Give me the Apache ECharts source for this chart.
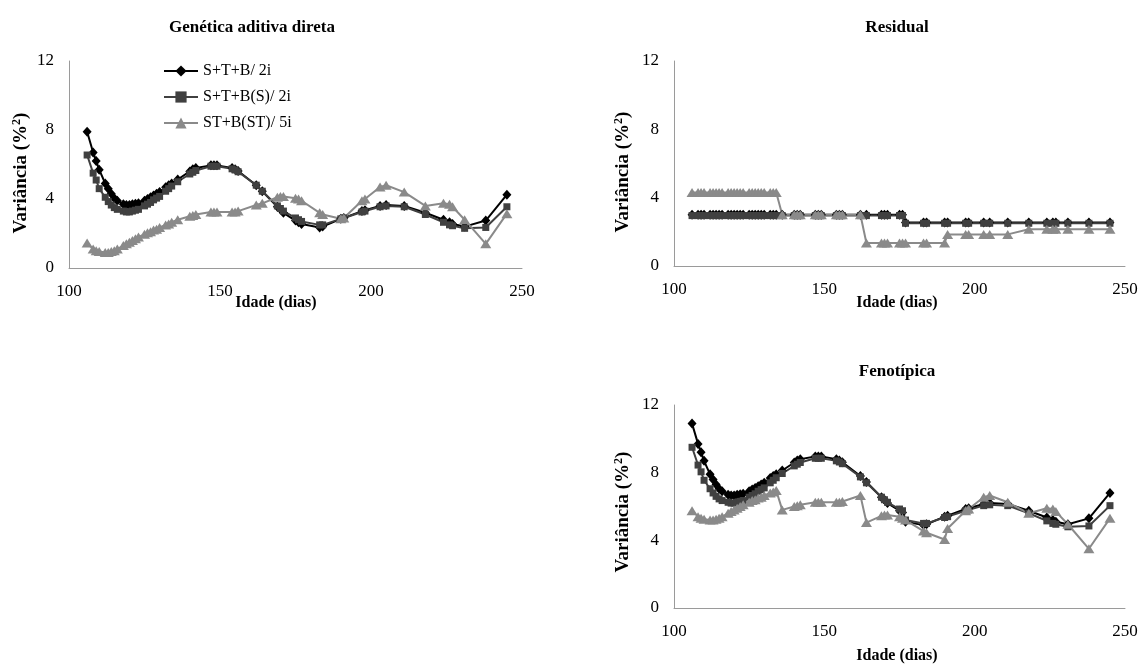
<!DOCTYPE html>
<html>
<head>
<meta charset="utf-8">
<script src="https://cdn.jsdelivr.net/npm/echarts@6/dist/echarts.min.js"></script>
<style>
  html, body { margin: 0; padding: 0; background: #ffffff; }
  #chart { width: 1142px; height: 666px; }
</style>
</head>
<body>
<div id="chart"></div>
<script>
// Ages (days) at which the variance components were estimated
const ages = [106, 108, 109, 110, 112, 113, 114, 115, 116, 118,
              119, 120, 121, 122, 123, 125, 126, 127, 128, 129,
              130, 132, 133, 134, 136, 140, 141, 142, 147, 148,
              149, 154, 155, 156, 162, 164, 169, 170, 171, 175,
              176, 177, 183, 184, 190, 191, 197, 198, 203, 205,
              211, 218, 224, 226, 227, 231, 238, 245];

const seriesNames = ['S+T+B/ 2i', 'S+T+B(S)/ 2i', 'ST+B(ST)/ 5i'];
const panelTitles = ['Genética aditiva direta', 'Residual', 'Fenotípica'];
const xTicks = [100, 150, 200, 250];
const yTicks = [0, 4, 8, 12];

// Direct additive genetic variance
const genSTB = [7.9, 6.7, 6.2, 5.7, 4.9, 4.6, 4.3, 4.05, 3.9, 3.7,
                3.65, 3.65, 3.7, 3.72, 3.75, 3.9, 4.0, 4.1, 4.2, 4.3,
                4.4, 4.68, 4.8, 4.9, 5.13, 5.6, 5.72, 5.8, 5.95, 5.95,
                5.95, 5.8, 5.72, 5.62, 4.8, 4.45, 3.55, 3.4, 3.2, 2.75,
                2.65, 2.55, 2.35, 2.4, 2.85, 2.9, 3.3, 3.35, 3.6, 3.65,
                3.6, 3.2, 2.8, 2.65, 2.55, 2.4, 2.75, 4.25];
const genSTBS = [6.55, 5.5, 5.1, 4.6, 4.1, 3.85, 3.65, 3.5, 3.4, 3.3,
                 3.25, 3.25, 3.3, 3.35, 3.4, 3.6, 3.7, 3.8, 3.95, 4.05,
                 4.15, 4.45, 4.6, 4.75, 5.0, 5.45, 5.55, 5.65, 5.9, 5.9,
                 5.9, 5.75, 5.68, 5.58, 4.8, 4.45, 3.6, 3.45, 3.3, 2.9,
                 2.8, 2.7, 2.5, 2.5, 2.85, 2.9, 3.25, 3.3, 3.55, 3.6,
                 3.55, 3.1, 2.65, 2.5, 2.45, 2.3, 2.35, 3.55];
const genSTBST = [1.45, 1.1, 1.0, 0.95, 0.9, 0.9, 0.95, 1.0, 1.1, 1.3,
                  1.4, 1.5, 1.6, 1.7, 1.8, 1.95, 2.05, 2.1, 2.2, 2.25,
                  2.35, 2.5, 2.55, 2.65, 2.8, 3.0, 3.05, 3.1, 3.25, 3.25,
                  3.25, 3.25, 3.25, 3.3, 3.65, 3.75, 4.1, 4.15, 4.15, 4.05,
                  4.0, 3.9, 3.2, 3.1, 2.85, 2.9, 3.9, 4.0, 4.7, 4.8,
                  4.4, 3.6, 3.75, 3.7, 3.55, 2.8, 1.4, 3.15];

// Residual variance (piecewise constant by age class)
const resSTB = [3.0, 3.0, 3.0, 3.0, 3.0, 3.0, 3.0, 3.0, 3.0, 3.0,
                3.0, 3.0, 3.0, 3.0, 3.0, 3.0, 3.0, 3.0, 3.0, 3.0,
                3.0, 3.0, 3.0, 3.0, 3.0, 3.0, 3.0, 3.0, 3.0, 3.0,
                3.0, 3.0, 3.0, 3.0, 3.0, 3.0, 3.0, 3.0, 3.0, 3.0,
                3.0, 2.55, 2.55, 2.55, 2.55, 2.55, 2.55, 2.55, 2.55, 2.55,
                2.55, 2.55, 2.55, 2.55, 2.55, 2.55, 2.55, 2.55];
const resSTBS = [2.95, 2.95, 2.95, 2.95, 2.95, 2.95, 2.95, 2.95, 2.95, 2.95,
                 2.95, 2.95, 2.95, 2.95, 2.95, 2.95, 2.95, 2.95, 2.95, 2.95,
                 2.95, 2.95, 2.95, 2.95, 2.95, 2.95, 2.95, 2.95, 2.95, 2.95,
                 2.95, 2.95, 2.95, 2.95, 2.95, 2.95, 2.95, 2.95, 2.95, 2.95,
                 2.95, 2.5, 2.5, 2.5, 2.5, 2.5, 2.5, 2.5, 2.5, 2.5,
                 2.5, 2.5, 2.5, 2.5, 2.5, 2.5, 2.5, 2.5];
const resSTBST = [4.3, 4.3, 4.3, 4.3, 4.3, 4.3, 4.3, 4.3, 4.3, 4.3,
                  4.3, 4.3, 4.3, 4.3, 4.3, 4.3, 4.3, 4.3, 4.3, 4.3,
                  4.3, 4.3, 4.3, 4.3, 3.0, 3.0, 3.0, 3.0, 3.0, 3.0,
                  3.0, 3.0, 3.0, 3.0, 3.0, 1.35, 1.35, 1.35, 1.35, 1.35,
                  1.35, 1.35, 1.35, 1.35, 1.35, 1.85, 1.85, 1.85, 1.85, 1.85,
                  1.85, 2.15, 2.15, 2.15, 2.15, 2.15, 2.15, 2.15];

// Phenotypic variance
const phenSTB = [10.9, 9.7, 9.2, 8.7, 7.9, 7.6, 7.3, 7.05, 6.9, 6.7,
                 6.65, 6.65, 6.7, 6.72, 6.75, 6.9, 7.0, 7.1, 7.2, 7.3,
                 7.4, 7.68, 7.8, 7.9, 8.13, 8.6, 8.72, 8.8, 8.95, 8.95,
                 8.95, 8.8, 8.72, 8.62, 7.8, 7.45, 6.55, 6.4, 6.2, 5.75,
                 5.65, 5.1, 4.9, 4.95, 5.4, 5.45, 5.85, 5.9, 6.15, 6.2,
                 6.15, 5.75, 5.35, 5.2, 5.1, 4.95, 5.3, 6.8];
const phenSTBS = [9.5, 8.45, 8.05, 7.55, 7.05, 6.8, 6.6, 6.45, 6.35, 6.25,
                  6.2, 6.2, 6.25, 6.3, 6.35, 6.55, 6.65, 6.75, 6.9, 7.0,
                  7.1, 7.4, 7.55, 7.7, 7.95, 8.4, 8.5, 8.6, 8.85, 8.85,
                  8.85, 8.7, 8.63, 8.53, 7.75, 7.4, 6.55, 6.4, 6.25, 5.85,
                  5.75, 5.2, 5.0, 5.0, 5.35, 5.4, 5.75, 5.8, 6.05, 6.1,
                  6.05, 5.6, 5.15, 5.0, 4.95, 4.8, 4.85, 6.05];
const phenSTBST = [5.75, 5.4, 5.3, 5.25, 5.2, 5.2, 5.25, 5.3, 5.4, 5.6,
                   5.7, 5.8, 5.9, 6.0, 6.1, 6.25, 6.35, 6.4, 6.5, 6.55,
                   6.65, 6.8, 6.85, 6.95, 5.8, 6.0, 6.05, 6.1, 6.25, 6.25,
                   6.25, 6.25, 6.25, 6.3, 6.65, 5.05, 5.45, 5.5, 5.5, 5.4,
                   5.3, 5.2, 4.55, 4.45, 4.05, 4.7, 5.75, 5.85, 6.55, 6.65,
                   6.25, 5.6, 5.9, 5.85, 5.7, 4.95, 3.5, 5.3];

const panelData = [
  [genSTB, genSTBS, genSTBST],
  [resSTB, resSTBS, resSTBST],
  [phenSTB, phenSTBS, phenSTBST]
];

const FONT = '"Liberation Serif", "Times New Roman", serif';
const AXIS_GRAY = '#9a9a9a';

// Plot areas of the three panels
const grids = [
  { left: 69, top: 61, width: 453, height: 207 },
  { left: 674, top: 61, width: 451, height: 205 },
  { left: 674, top: 405, width: 451, height: 203 }
];

const styles = [
  { color: '#000000', symbol: 'diamond', symbolSize: [9, 10] },
  { color: '#404040', symbol: 'rect', symbolSize: 7 },
  { color: '#8a8a8a', symbol: 'triangle', symbolSize: [11, 9] }
];

const xAxes = grids.map((g, i) => ({
  type: 'value', gridIndex: i,
  min: xTicks[0], max: xTicks[xTicks.length - 1], interval: 50,
  axisLine: { show: true, lineStyle: { color: AXIS_GRAY, width: 1 } },
  axisTick: { show: false },
  splitLine: { show: false },
  axisLabel: { color: '#000', fontFamily: FONT, fontSize: 17, margin: 15 }
}));

const yAxes = grids.map((g, i) => ({
  type: 'value', gridIndex: i,
  min: yTicks[0], max: yTicks[yTicks.length - 1], interval: 4,
  axisLine: { show: true, lineStyle: { color: AXIS_GRAY, width: 1 } },
  axisTick: { show: false },
  splitLine: { show: false },
  axisLabel: { color: '#000', fontFamily: FONT, fontSize: 17, margin: 15 }
}));

const series = [];
panelData.forEach((sets, p) => {
  sets.forEach((vals, s) => {
    series.push({
      name: seriesNames[s],
      type: 'line',
      xAxisIndex: p, yAxisIndex: p,
      data: ages.map((a, k) => [a, vals[k]]),
      symbol: styles[s].symbol,
      symbolSize: styles[s].symbolSize,
      showAllSymbol: true,
      lineStyle: { color: styles[s].color, width: 2 },
      itemStyle: { color: styles[s].color, borderWidth: 0 },
      emphasis: { disabled: true },
      animation: false
    });
  });
});

// Panel titles and axis names
const titleFont = 'bold 17px ' + FONT;
const nameFont = 'bold 16px ' + FONT;
const texts = [
  { text: panelTitles[0], x: 252, y: 28, font: titleFont },
  { text: panelTitles[1], x: 897, y: 28, font: titleFont },
  { text: panelTitles[2], x: 897, y: 372, font: titleFont },
  { text: 'Idade (dias)', x: 276, y: 303, font: nameFont },
  { text: 'Idade (dias)', x: 897, y: 303, font: nameFont },
  { text: 'Idade (dias)', x: 897, y: 656, font: nameFont }
];
const graphic = texts.map(t => ({
  type: 'text', x: t.x, y: t.y,
  style: { text: t.text, font: t.font, fill: '#000', textAlign: 'center', textVerticalAlign: 'middle' }
}));
[[21, 173], [623, 172], [623, 512]].forEach(([x, y]) => {
  graphic.push({
    type: 'text', x: x, y: y, rotation: Math.PI / 2,
    style: {
      text: 'Variância (%{s|2})', font: 'bold 19px ' + FONT, fill: '#000',
      textAlign: 'center', textVerticalAlign: 'middle',
      rich: { s: { fontSize: 12, fontWeight: 'bold', fontFamily: FONT, verticalAlign: 'top', padding: [0, 0, 8, 0] } }
    }
  });
});

const chart = echarts.init(document.getElementById('chart'), null, { renderer: 'canvas' });
chart.setOption({
  backgroundColor: '#ffffff',
  animation: false,
  grid: grids.map(g => Object.assign({ containLabel: false }, g)),
  xAxis: xAxes,
  yAxis: yAxes,
  legend: {
    data: seriesNames,
    orient: 'vertical',
    left: 163, top: 63, padding: 0,
    itemWidth: 34, itemHeight: 14, itemGap: 10,
    textStyle: { fontFamily: FONT, fontSize: 16, color: '#000' },
    selectedMode: false
  },
  graphic: graphic,
  series: series
});
</script>
</body>
</html>
